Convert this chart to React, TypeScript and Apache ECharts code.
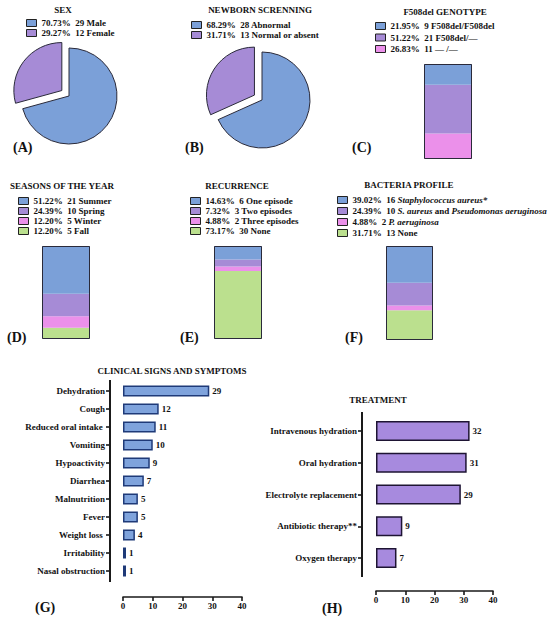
import { useEffect, useRef } from "react";
import * as echarts from "echarts";

// ---------- data ----------
const sexNames = ["Male", "Female"];
const sexCounts = [29, 12];
const newbornNames = ["Abnormal", "Normal or absent"];
const newbornCounts = [28, 13];
const genotypeNames = ["F508del/F508del", "F508del/—", "— /—"];
const genotypeCounts = [9, 21, 11];
const seasonNames = ["Summer", "Spring", "Winter", "Fall"];
const seasonCounts = [21, 10, 5, 5];
const recurrenceNames = ["One episode", "Two episodes", "Three episodes", "None"];
const recurrenceCounts = [6, 3, 2, 30];
const bacteriaNames = ["Staphylococcus aureus*", "S. aureus and Pseudomonas aeruginosa", "P. aeruginosa", "None"];
const bacteriaLabels = ["{i|Staphylococcus aureus*}", "{i|S. aureus} and {i|Pseudomonas aeruginosa}", "{i|P. aeruginosa}", "None"];
const bacteriaCounts = [16, 10, 2, 13];
const symptomNames = [
  "Dehydration",
  "Cough",
  "Reduced oral intake ",
  "Vomiting",
  "Hypoactivity",
  "Diarrhea",
  "Malnutrition",
  "Fever",
  "Weight loss ",
  "Irritability",
  "Nasal obstruction",
];
const symptomCounts = [29, 12, 11, 10, 9, 7, 5, 5, 4, 1, 1];
const treatmentNames = ["Intravenous hydration", "Oral hydration", "Electrolyte replacement", "Antibiotic therapy**", "Oxygen therapy"];
const treatmentCounts = [32, 31, 29, 9, 7];
const xTickMin = 0;
const xTickMax = 40;
const xTickStep = 10;

// ---------- styling ----------
const FONT = "'Liberation Serif', 'Times New Roman', serif";
const BLUE = "#7ba0d8";
const PURPLE = "#a68bd6";
const PINK = "#eb90ea";
const GREEN = "#bbe08e";
const INK = "#111111";
const EDGE = "#2a2a3a";
const AXIS = "#1a1a1a";

const sum = (a: number[]) => a.reduce((s, v) => s + v, 0);
const legendText: Record<string, string> = {};

function registerLegend(panel: string, names: string[], counts: number[], labels?: string[]) {
  const total = sum(counts);
  return names.map((n, i) => {
    const key = panel + ":" + n;
    const pct = ((counts[i] / total) * 100).toFixed(2);
    legendText[key] = `${pct}%  ${counts[i]} ${labels ? labels[i] : n}`;
    return key;
  });
}

function legendFor(keys: string[], left: number, top: number, gap: number) {
  return {
    data: keys,
    orient: "vertical",
    left,
    top,
    padding: 0,
    itemGap: gap,
    itemWidth: 10,
    itemHeight: 7,
    icon: "rect",
    selectedMode: false,
    itemStyle: { borderColor: "#222", borderWidth: 1 },
    formatter: (n: string) => legendText[n] ?? n,
    textStyle: {
      fontFamily: FONT,
      fontSize: 9,
      fontWeight: "bold",
      color: INK,
      lineHeight: 10,
      rich: {
        i: { fontFamily: FONT, fontSize: 9, fontWeight: "bold", fontStyle: "italic", color: INK, lineHeight: 10 },
      },
    },
  };
}

function pieSeries(keys: string[], counts: number[], center: number[], colors: string[]) {
  return {
    type: "pie",
    center,
    radius: 48,
    startAngle: 90,
    clockwise: true,
    selectedMode: "single",
    selectedOffset: 9,
    silent: true,
    label: { show: false },
    labelLine: { show: false },
    emphasis: { disabled: true },
    itemStyle: { borderColor: EDGE, borderWidth: 1 },
    data: keys.map((k, i) => ({ name: k, value: counts[i], selected: i === 1, itemStyle: { color: colors[i] } })),
  };
}

function stackSeries(panel: string, keys: string[], counts: number[], colors: string[], idx: number) {
  const segs = keys
    .map((k, i) => ({
      type: "bar",
      name: k,
      xAxisIndex: idx,
      yAxisIndex: idx,
      stack: panel,
      barWidth: "100%",
      barGap: "-100%",
      silent: true,
      emphasis: { disabled: true },
      data: [counts[i]],
      itemStyle: { color: colors[i] },
    }))
    .reverse();
  const outline = {
    type: "bar",
    xAxisIndex: idx,
    yAxisIndex: idx,
    barWidth: "100%",
    barGap: "-100%",
    silent: true,
    emphasis: { disabled: true },
    z: 3,
    data: [sum(counts)],
    itemStyle: { color: "rgba(0,0,0,0)", borderColor: EDGE, borderWidth: 1 },
  };
  return [...segs, outline];
}

function textEl(text: string, x: number, y: number, size: number, align = "center") {
  return {
    type: "text",
    x,
    y,
    silent: true,
    style: { text, align, verticalAlign: "middle", fontSize: size, fontWeight: "bold", fontFamily: FONT, fill: INK },
  };
}

function vLine(x: number, y1: number, y2: number) {
  return {
    type: "rect",
    silent: true,
    z: 10,
    shape: { x: x - 1, y: y1, width: 2, height: y2 - y1 },
    style: { fill: AXIS },
  };
}

const axisLabelStyle = { fontFamily: FONT, fontSize: 9, fontWeight: "bold", color: INK };
const axisLineStyle = { color: AXIS, width: 1.6 };

export default function App() {
  const ref = useRef<HTMLDivElement>(null);
  useEffect(() => {
    if (!ref.current) return;
    const chart = echarts.init(ref.current, undefined, { renderer: "svg" });

    const kA = registerLegend("A", sexNames, sexCounts);
    const kB = registerLegend("B", newbornNames, newbornCounts);
    const kC = registerLegend("C", genotypeNames, genotypeCounts);
    const kD = registerLegend("D", seasonNames, seasonCounts);
    const kE = registerLegend("E", recurrenceNames, recurrenceCounts);
    const kF = registerLegend("F", bacteriaNames, bacteriaCounts, bacteriaLabels);

    const stackGrids = [
      { left: 424, top: 64, width: 48, height: 95 },
      { left: 42, top: 246, width: 48, height: 93 },
      { left: 214, top: 246, width: 48, height: 93 },
      { left: 386, top: 246, width: 47, height: 94 },
    ];
    const stackTotals = [sum(genotypeCounts), sum(seasonCounts), sum(recurrenceCounts), sum(bacteriaCounts)];

    // bar grids (4: G, 5: H) and label grids (6: G, 7: H) placed at the detached y-axis position
    const gBars = { left: 123, top: 382, width: 119, height: 198 };
    const hBars = { left: 376, top: 415, width: 117, height: 159 };
    const gAxisX = 110;
    const hAxisX = 362;

    const hBarX = (idx: number) => ({
      type: "value",
      gridIndex: idx,
      min: xTickMin,
      max: xTickMax,
      interval: xTickStep,
      offset: 17,
      axisLine: { show: true, lineStyle: axisLineStyle },
      axisTick: { show: true, length: 4, lineStyle: axisLineStyle },
      splitLine: { show: false },
      axisLabel: { ...axisLabelStyle, margin: 4 },
    });
    const hiddenCat = (idx: number, data: string[]) => ({
      type: "category",
      gridIndex: idx,
      data,
      inverse: true,
      show: false,
    });
    const labelCat = (idx: number, data: string[]) => ({
      type: "category",
      gridIndex: idx,
      data,
      inverse: true,
      position: "left",
      axisLine: { show: false },
      axisTick: { show: true, alignWithLabel: true, length: 4, lineStyle: axisLineStyle },
      axisLabel: { ...axisLabelStyle, margin: 5 },
    });

    const option: any = {
      animation: false,
      backgroundColor: "#ffffff",
      legend: [
        legendFor(kA, 26, 18, 0),
        legendFor(kB, 191, 20, 0),
        legendFor(kC, 375, 21, 1.5),
        legendFor(kD, 18, 196, 0),
        legendFor(kE, 190, 196, 0),
        legendFor(kF, 337, 195, 1),
      ],
      grid: [
        ...stackGrids,
        gBars,
        hBars,
        { ...gBars, left: gAxisX, width: 10 },
        { ...hBars, left: hAxisX, width: 10 },
      ],
      xAxis: [
        ...stackGrids.map((_, i) => ({ type: "category", gridIndex: i, data: ["x"], show: false })),
        hBarX(4),
        hBarX(5),
        { type: "value", gridIndex: 6, show: false, min: 0, max: 1 },
        { type: "value", gridIndex: 7, show: false, min: 0, max: 1 },
      ],
      yAxis: [
        ...stackGrids.map((_, i) => ({ type: "value", gridIndex: i, min: 0, max: stackTotals[i], show: false })),
        hiddenCat(4, symptomNames),
        hiddenCat(5, treatmentNames),
        labelCat(6, symptomNames),
        labelCat(7, treatmentNames),
      ],
      series: [
        pieSeries(kA, sexCounts, [69, 96], [BLUE, PURPLE]),
        pieSeries(kB, newbornCounts, [262, 100], [BLUE, PURPLE]),
        ...stackSeries("C", kC, genotypeCounts, [BLUE, PURPLE, PINK], 0),
        ...stackSeries("D", kD, seasonCounts, [BLUE, PURPLE, PINK, GREEN], 1),
        ...stackSeries("E", kE, recurrenceCounts, [BLUE, PURPLE, PINK, GREEN], 2),
        ...stackSeries("F", kF, bacteriaCounts, [BLUE, PURPLE, PINK, GREEN], 3),
        {
          type: "bar",
          xAxisIndex: 4,
          yAxisIndex: 4,
          data: symptomCounts,
          barWidth: 11,
          silent: true,
          emphasis: { disabled: true },
          itemStyle: { color: "#7fa3dc", borderColor: "#1f3a78", borderWidth: 1.5 },
          label: { show: true, position: "right", distance: 3, ...axisLabelStyle },
        },
        {
          type: "bar",
          xAxisIndex: 5,
          yAxisIndex: 5,
          data: treatmentCounts,
          barWidth: 20,
          silent: true,
          emphasis: { disabled: true },
          itemStyle: { color: "#a78ade", borderColor: "#1e1433", borderWidth: 1.5 },
          label: { show: true, position: "right", distance: 3, ...axisLabelStyle },
        },
      ],
      graphic: [
        vLine(gAxisX, 380, 582),
        vLine(hAxisX, 412, 577),
        textEl("SEX", 63, 10, 9),
        textEl("NEWBORN SCRENNING", 260, 10, 9),
        textEl("F508del GENOTYPE", 445, 12, 9),
        textEl("SEASONS OF THE YEAR", 62, 186, 9),
        textEl("RECURRENCE", 237, 186, 9),
        textEl("BACTERIA PROFILE", 409, 185, 9),
        textEl("CLINICAL SIGNS AND SYMPTOMS", 172, 371, 9),
        textEl("TREATMENT", 378, 400, 9),
        textEl("(A)", 13, 147, 14, "left"),
        textEl("(B)", 185, 147, 14, "left"),
        textEl("(C)", 352, 147, 14, "left"),
        textEl("(D)", 7, 337, 14, "left"),
        textEl("(E)", 180, 337, 14, "left"),
        textEl("(F)", 345, 337, 14, "left"),
        textEl("(G)", 35, 607, 14, "left"),
        textEl("(H)", 322, 608, 14, "left"),
      ],
    };
    chart.setOption(option);
    return () => chart.dispose();
  }, []);
  return <div ref={ref} style={{ position: "absolute", left: 0, top: 0, width: 550, height: 620 }} />;
}
